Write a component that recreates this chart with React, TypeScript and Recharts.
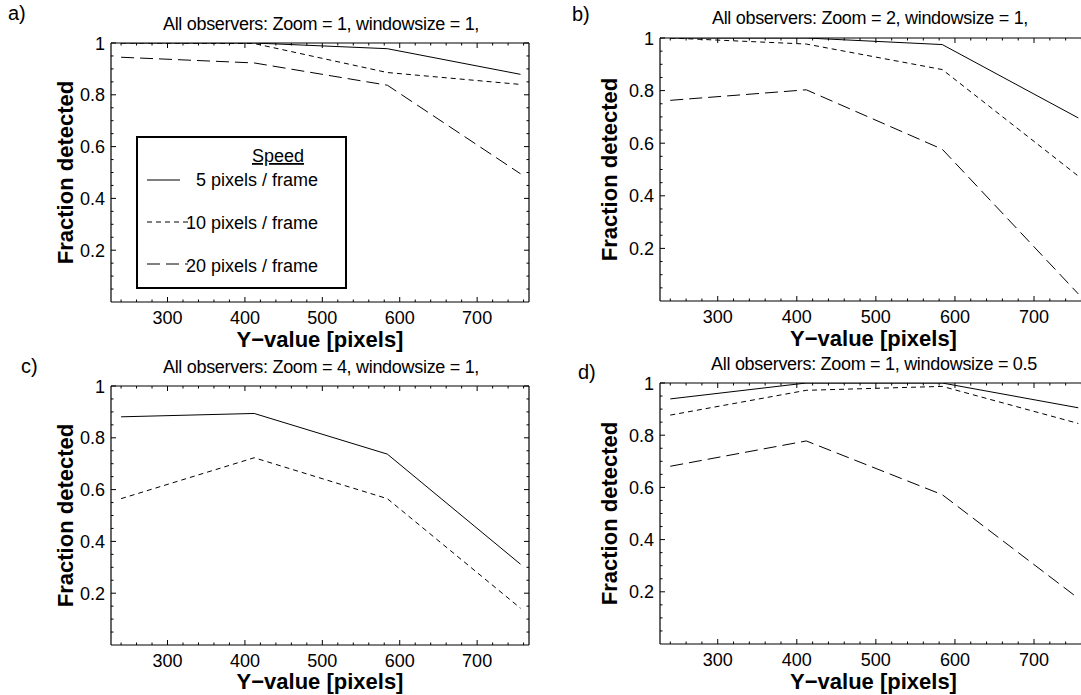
import { Legend, Line, LineChart, XAxis, YAxis } from "recharts";

const FONT = '"Liberation Sans", Arial, Helvetica, sans-serif';

// y-position (pixels on screen) at which each measurement was taken
const xValues = [240, 412, 584, 756];

// a) Zoom = 1, windowsize = 1
const a5 = [1.0, 1.0, 0.978, 0.879];
const a10 = [1.0, 0.998, 0.886, 0.84];
const a20 = [0.945, 0.923, 0.837, 0.495];

// b) Zoom = 2, windowsize = 1
const b5 = [1.0, 1.0, 0.975, 0.696];
const b10 = [1.0, 0.977, 0.88, 0.475];
const b20 = [0.763, 0.803, 0.577, 0.027];

// c) Zoom = 4, windowsize = 1
const c5 = [0.881, 0.894, 0.737, 0.312];
const c10 = [0.565, 0.723, 0.565, 0.142];

// d) Zoom = 1, windowsize = 0.5
const d5 = [0.939, 1.0, 1.0, 0.905];
const d10 = [0.877, 0.972, 0.987, 0.845];
const d20 = [0.681, 0.778, 0.572, 0.175];

const xTicks = [
  240, 260, 280, 300, 320, 340, 360, 380, 400, 420, 440, 460, 480, 500, 520, 540,
  560, 580, 600, 620, 640, 660, 680, 700, 720, 740, 760,
];
const xLabels = [300, 400, 500, 600, 700];
const yTicks = [
  0.05, 0.1, 0.15, 0.2, 0.25, 0.3, 0.35, 0.4, 0.45, 0.5, 0.55, 0.6, 0.65, 0.7, 0.75,
  0.8, 0.85, 0.9, 0.95, 1,
];
const yLabels = [0.2, 0.4, 0.6, 0.8, 1];

const seriesNames = ["5 pixels / frame", "10 pixels / frame", "20 pixels / frame"];
const seriesDash = ["", "5 4", "13 6"];

const X_DOMAIN = [227, 767];

const isMajor = (v: number, list: number[]) => list.some((l) => Math.abs(l - v) < 1e-6);

const BottomTick = ({ x, y, payload }: any) => {
  const major = isMajor(payload.value, xLabels);
  return (
    <g>
      <line x1={x} y1={y} x2={x} y2={y - (major ? 5 : 2.5)} stroke="#000" strokeWidth={1} />
      {major && (
        <text x={x} y={y + 22} textAnchor="middle" fontSize={18} fontFamily={FONT} fill="#000">
          {payload.value}
        </text>
      )}
    </g>
  );
};

const TopTick = ({ x, y, payload }: any) => {
  const major = isMajor(payload.value, xLabels);
  return <line x1={x} y1={y} x2={x} y2={y + (major ? 5 : 2.5)} stroke="#000" strokeWidth={1} />;
};

const LeftTick = ({ x, y, payload }: any) => {
  const major = isMajor(payload.value, yLabels);
  return (
    <g>
      <line x1={x} y1={y} x2={x + (major ? 5 : 2.5)} y2={y} stroke="#000" strokeWidth={1} />
      {major && (
        <text x={x - 6} y={y + 6.5} textAnchor="end" fontSize={18} fontFamily={FONT} fill="#000">
          {Math.abs(payload.value - 1) < 1e-6 ? "1" : String(payload.value)}
        </text>
      )}
    </g>
  );
};

const RightTick = ({ x, y, payload }: any) => {
  const major = isMajor(payload.value, yLabels);
  return <line x1={x} y1={y} x2={x - (major ? 5 : 2.5)} y2={y} stroke="#000" strokeWidth={1} />;
};

const SpeedLegend = ({ payload }: any) => {
  const rows = [
    { lineY: 42, lineEnd: 42, textY: 48 },
    { lineY: 84, lineEnd: 50, textY: 91 },
    { lineY: 126, lineEnd: 50, textY: 134 },
  ];
  const items = [...(payload ?? [])].sort(
    (p: any, q: any) => seriesNames.indexOf(p.value) - seriesNames.indexOf(q.value)
  );
  return (
    <svg width={207} height={149} style={{ display: "block" }}>
      <text
        x={140}
        y={24}
        textAnchor="middle"
        fontSize={18}
        fontFamily={FONT}
        style={{ textDecoration: "underline" }}
      >
        Speed
      </text>
      {items.map((entry: any, i: number) => {
        const r = rows[i];
        const idx = seriesNames.indexOf(entry.value);
        return (
          <g key={entry.value}>
            <line
              x1={9}
              x2={r.lineEnd}
              y1={r.lineY}
              y2={r.lineY}
              stroke="#000"
              strokeWidth={1}
              strokeDasharray={seriesDash[idx] || undefined}
            />
            <text x={180} y={r.textY} textAnchor="end" fontSize={18} fontFamily={FONT} fill="#000">
              {entry.value}
            </text>
          </g>
        );
      })}
    </svg>
  );
};

type PanelProps = {
  left: number;
  top: number;
  width: number;
  height: number;
  plotTop: number;
  plotLeft: number;
  plotRight: number;
  plotBottom: number;
  yLabelX: number;
  xLabelY: number;
  series: (number[] | null)[];
  legend?: boolean;
};

function Panel(p: PanelProps) {
  const data = xValues.map((x, i) => ({
    x,
    s0: p.series[0]?.[i],
    s1: p.series[1]?.[i],
    s2: p.series[2]?.[i],
  }));
  const axisLine = { stroke: "#000", strokeWidth: 1.2 };
  // top x-axis and right y-axis are 1px thick, they only draw the frame
  const marginTop = p.plotTop - 1;
  const marginRight = p.width - p.plotRight - 1;
  const bottomSpace = p.height - p.plotBottom;
  const xAxisHeight = 52;

  return (
    <div style={{ position: "absolute", left: p.left, top: p.top }}>
      <LineChart
        width={p.width}
        height={p.height}
        data={data}
        margin={{ top: marginTop, right: marginRight, bottom: bottomSpace - xAxisHeight, left: 0 }}
      >
        <XAxis
          dataKey="x"
          type="number"
          domain={X_DOMAIN}
          allowDataOverflow
          ticks={xTicks}
          interval={0}
          height={xAxisHeight}
          tickSize={0}
          tickMargin={0}
          tick={BottomTick}
          axisLine={axisLine}
          label={{
            content: ({ viewBox }: any) => (
              <text
                x={viewBox.x + viewBox.width / 2}
                y={viewBox.y + p.xLabelY}
                textAnchor="middle"
                fontSize={22}
                fontWeight="bold"
                fontFamily={FONT}
                fill="#000"
              >
                Y−value [pixels]
              </text>
            ),
          }}
        />
        <XAxis
          xAxisId="top"
          orientation="top"
          dataKey="x"
          type="number"
          domain={X_DOMAIN}
          allowDataOverflow
          ticks={xTicks}
          interval={0}
          height={1}
          tickSize={0}
          tickMargin={0}
          tick={TopTick}
          axisLine={axisLine}
        />
        <YAxis
          type="number"
          domain={[0, 1]}
          allowDataOverflow
          ticks={yTicks}
          interval={0}
          width={p.plotLeft}
          tickSize={0}
          tickMargin={0}
          tick={LeftTick}
          axisLine={axisLine}
          label={{
            content: ({ viewBox }: any) => (
              <text
                transform={`translate(${viewBox.x + p.yLabelX}, ${viewBox.y + viewBox.height / 2}) rotate(-90)`}
                textAnchor="middle"
                dominantBaseline="central"
                fontSize={22}
                fontWeight="bold"
                fontFamily={FONT}
                fill="#000"
              >
                Fraction detected
              </text>
            ),
          }}
        />
        <YAxis
          yAxisId="right"
          orientation="right"
          type="number"
          domain={[0, 1]}
          allowDataOverflow
          ticks={yTicks}
          interval={0}
          width={1}
          tickSize={0}
          tickMargin={0}
          tick={RightTick}
          axisLine={axisLine}
        />
        {p.series.map((s, i) =>
          s ? (
            <Line
              key={i}
              type="linear"
              dataKey={`s${i}`}
              name={seriesNames[i]}
              stroke="#000"
              strokeWidth={1}
              strokeDasharray={seriesDash[i] || undefined}
              dot={false}
              activeDot={false}
              isAnimationActive={false}
            />
          ) : null
        )}
        {p.legend && (
          <Legend
            layout="vertical"
            align="center"
            verticalAlign="middle"
            content={SpeedLegend}
            wrapperStyle={{
              left: 136,
              top: 136,
              width: 211,
              height: 153,
              border: "2px solid #000",
              boxSizing: "border-box",
              background: "#fff",
            }}
          />
        )}
      </LineChart>
    </div>
  );
}

const textStyle = (left: number, top: number, size: number, center = false) => ({
  position: "absolute" as const,
  left,
  top,
  fontSize: size,
  lineHeight: 1,
  fontFamily: FONT,
  whiteSpace: "nowrap" as const,
  color: "#000",
  transform: center ? "translateX(-50%)" : undefined,
});

const titleStyle = (center: number, top: number) => ({
  ...textStyle(center, top, 18, true),
  letterSpacing: -0.3,
});

export default function App() {
  return (
    <div
      style={{
        position: "absolute",
        left: 0,
        top: 0,
        width: 1081,
        height: 695,
        overflow: "hidden",
        background: "#fff",
      }}
    >
      <Panel
        left={0}
        top={0}
        width={540}
        height={358}
        plotTop={43}
        plotLeft={111}
        plotRight={529}
        plotBottom={302}
        yLabelX={65}
        xLabelY={45}
        series={[a5, a10, a20]}
        legend
      />
      <Panel
        left={540}
        top={0}
        width={560}
        height={358}
        plotTop={38}
        plotLeft={120}
        plotRight={547}
        plotBottom={301}
        yLabelX={69}
        xLabelY={45}
        series={[b5, b10, b20]}
      />
      <Panel
        left={0}
        top={350}
        width={540}
        height={345}
        plotTop={36}
        plotLeft={111}
        plotRight={529}
        plotBottom={295}
        yLabelX={65}
        xLabelY={44}
        series={[c5, c10, null]}
      />
      <Panel
        left={540}
        top={350}
        width={560}
        height={345}
        plotTop={33}
        plotLeft={120}
        plotRight={547}
        plotBottom={294}
        yLabelX={69}
        xLabelY={45}
        series={[d5, d10, d20]}
      />

      <div style={textStyle(8, 3, 20)}>a)</div>
      <div style={textStyle(572, 4, 20)}>b)</div>
      <div style={textStyle(21, 356, 20)}>c)</div>
      <div style={textStyle(578, 362, 20)}>d)</div>

      <div style={titleStyle(321, 15)}>All observers: Zoom = 1, windowsize = 1,</div>
      <div style={titleStyle(870, 9)}>All observers: Zoom = 2, windowsize = 1,</div>
      <div style={titleStyle(321, 358)}>All observers: Zoom = 4, windowsize = 1,</div>
      <div style={titleStyle(874, 355)}>All observers: Zoom = 1, windowsize = 0.5</div>
    </div>
  );
}
